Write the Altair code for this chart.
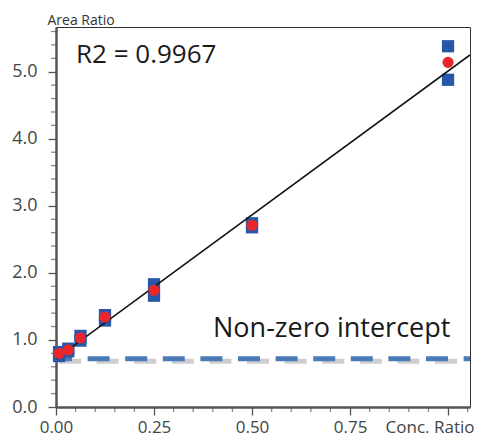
import altair as alt
import pandas as pd

# ---- data ----
conc = [0.0078, 0.03125, 0.0625, 0.125, 0.25, 0.5, 1.0]
rep1 = [0.76, 0.87, 1.06, 1.37, 1.83, 2.74, 5.38]
rep2 = [0.82, 0.83, 0.99, 1.29, 1.66, 2.68, 4.88]
mean = [0.80, 0.85, 1.03, 1.34, 1.74, 2.71, 5.14]
slope = 4.29
intercept = 0.72
r2_label = "R2 = 0.9967"
note_label = "Non-zero intercept"

x_major = [0.0, 0.25, 0.5, 0.75, 1.0]
x_minor = [0.05, 0.1, 0.15, 0.2, 0.3, 0.35, 0.4, 0.45, 0.55, 0.6, 0.65, 0.7,
           0.8, 0.85, 0.9, 0.95, 1.05]
y_major = [0.0, 1.0, 2.0, 3.0, 4.0, 5.0]
y_minor = [0.2, 0.4, 0.6, 0.8, 1.2, 1.4, 1.6, 1.8, 2.2, 2.4, 2.6, 2.8, 3.2, 3.4,
           3.6, 3.8, 4.2, 4.4, 4.6, 4.8, 5.2, 5.4, 5.6]
x_max = 1.056
y_max = 5.667

FONT = "Open Sans"

reps = pd.DataFrame({"conc": conc * 2, "value": rep1 + rep2})
means = pd.DataFrame({"conc": conc, "value": mean})
fit = pd.DataFrame({"conc": [0.0, x_max],
                    "value": [intercept, intercept + slope * x_max]})
icpt = pd.DataFrame({"x": [0.0], "x2": [x_max], "y": [intercept]})
texts = pd.DataFrame({"x": [0.051, 0.4005], "y": [5.125, 1.044],
                      "t": [r2_label, note_label], "s": [26, 27]})
xminor_df = pd.DataFrame({"v": x_minor})
yminor_df = pd.DataFrame({"v": y_minor})

xs = alt.Scale(domain=[0, x_max], nice=False, zero=False)
ys = alt.Scale(domain=[0, y_max], nice=False, zero=False)

x_axis = alt.Axis(
    values=x_major,
    labelExpr="datum.value < 0.99 ? format(datum.value, '.2f') : ''",
    tickSize=8, labelOverlap=False, labelFlush=False,
    labelFont=FONT, labelFontSize=17, labelColor="#444", labelPadding=4,
    domainColor="#555", domainWidth=2.5, tickColor="#555", tickWidth=1.3,
    grid=False,
    title="Conc. Ratio", titleX=418, titleY=25, titleAlign="right",
    titleBaseline="alphabetic", titleFont=FONT, titleFontSize=17,
    titleFontWeight="normal", titleColor="#444",
)
y_axis = alt.Axis(
    values=y_major, format=".1f",
    tickSize=8, labelOverlap=False, labelFlush=False,
    labelFont=FONT, labelFontSize=18, labelColor="#444", labelPadding=11,
    domainColor="#555", domainWidth=2.5, tickColor="#555", tickWidth=1.3,
    grid=False,
    title="Area Ratio", titleAngle=0, titleX=-9, titleY=-3, titleAlign="left",
    titleBaseline="alphabetic", titleFont=FONT, titleFontSize=14,
    titleFontWeight="normal", titleColor="#333",
)

shadow = alt.Chart(icpt).mark_rule(
    color="#c6c6c6", strokeWidth=5, strokeDash=[22, 15.6], strokeDashOffset=-3,
    yOffset=2.5, opacity=0.85,
).encode(x=alt.X("x:Q", scale=xs, axis=x_axis), x2="x2:Q",
         y=alt.Y("y:Q", scale=ys, axis=y_axis))

dash = alt.Chart(icpt).mark_rule(
    color="#4a7bb8", strokeWidth=5, strokeDash=[22, 15.6], strokeDashOffset=6,
).encode(x=alt.X("x:Q", scale=xs), x2="x2:Q", y=alt.Y("y:Q", scale=ys))

x_minor_ticks = alt.Chart(xminor_df).mark_tick(
    orient="vertical", size=5, thickness=1.3, color="#555", yOffset=2.5, clip=False,
).encode(x=alt.X("v:Q", scale=xs), y=alt.datum(0, scale=ys))

y_minor_ticks = alt.Chart(yminor_df).mark_tick(
    orient="horizontal", size=5, thickness=1.3, color="#555", xOffset=-2.5, clip=False,
).encode(y=alt.Y("v:Q", scale=ys), x=alt.datum(0, scale=xs))

squares = alt.Chart(reps).mark_square(size=150, color="#2657a8", opacity=1).encode(
    x=alt.X("conc:Q", scale=xs), y=alt.Y("value:Q", scale=ys))

line = alt.Chart(fit).mark_line(color="#111", strokeWidth=1.6, clip=True).encode(
    x=alt.X("conc:Q", scale=xs), y=alt.Y("value:Q", scale=ys))

dots = alt.Chart(means).mark_circle(size=125, color="#e8262b", opacity=1).encode(
    x=alt.X("conc:Q", scale=xs), y=alt.Y("value:Q", scale=ys))

labels = alt.Chart(texts).mark_text(
    align="left", baseline="alphabetic", font=FONT, color="#1a1a1a",
).encode(x=alt.X("x:Q", scale=xs), y=alt.Y("y:Q", scale=ys), text="t:N",
         size=alt.Size("s:Q", scale=None, legend=None))

chart = alt.layer(shadow, dash, x_minor_ticks, y_minor_ticks, squares, line, dots,
                  labels).properties(
    width=414, height=380,
    autosize=alt.AutoSizeParams(type="none"),
    padding={"left": 48, "top": 19, "right": 4, "bottom": 28},
).configure_view(stroke="#333", strokeWidth=1)

chart.save("out.html", embed_options={"renderer": "svg", "actions": False})
